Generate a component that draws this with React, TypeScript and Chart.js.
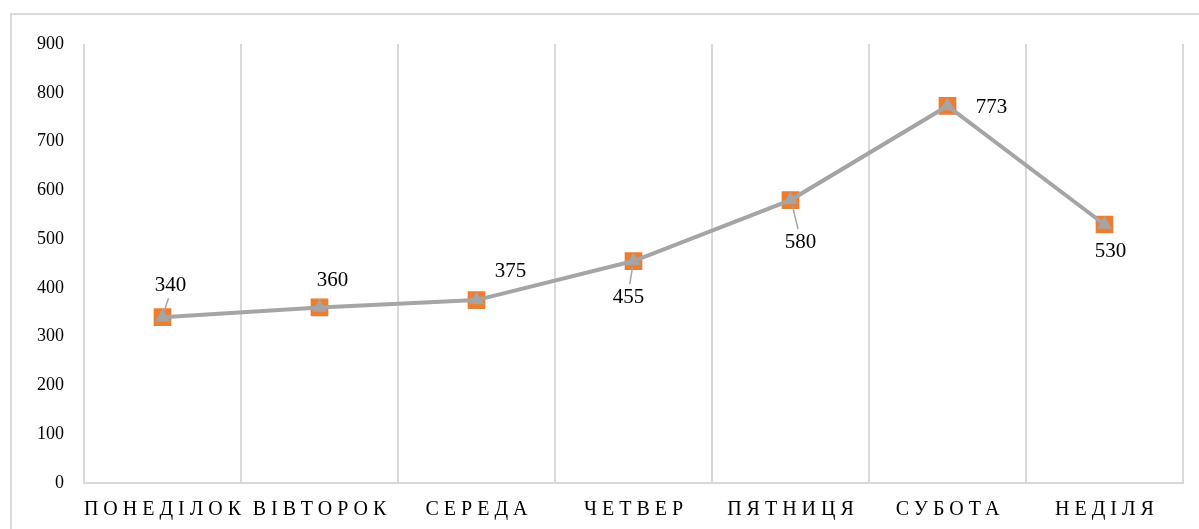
import React, { useEffect, useRef } from "react";
import { Chart, registerables } from "chart.js";

Chart.register(...registerables);

const categories = ["ПОНЕДІЛОК", "ВІВТОРОК", "СЕРЕДА", "ЧЕТВЕР", "ПЯТНИЦЯ", "СУБОТА", "НЕДІЛЯ"];
const values = [340, 360, 375, 455, 580, 773, 530];
const yTicks = [0, 100, 200, 300, 400, 500, 600, 700, 800, 900];
// label offsets (px) relative to each point, and whether a leader line is drawn
const labelDx = [8, 13, 34, -5, 10, 44, 6];
const labelDy = [-32, -27, -29, 36, 42, 2, 27];
const leader = [true, false, false, true, true, false, false];

const FONT = "'Liberation Serif', 'Times New Roman', serif";

const framePlugin = {
  id: "frame",
  beforeDraw(chart: any) {
    const ctx = chart.ctx;
    ctx.save();
    ctx.fillStyle = "#ffffff";
    ctx.fillRect(0, 0, chart.width, chart.height);
    ctx.strokeStyle = "#D9D9D9";
    ctx.lineWidth = 2;
    ctx.strokeRect(11, 14, chart.width + 20, chart.height + 20);
    ctx.restore();
  },
  afterDraw(chart: any) {
    const ctx = chart.ctx;
    const xs = chart.scales.x;
    ctx.save();
    ctx.fillStyle = "#000000";
    ctx.font = `20px ${FONT}`;
    (ctx as any).letterSpacing = "5px";
    ctx.textAlign = "center";
    ctx.textBaseline = "middle";
    categories.forEach((c, i) => {
      const x = xs.getPixelForValue(i);
      ctx.fillText(c, x + 2.5, 510);
    });
    ctx.restore();

    // data labels
    const meta = chart.getDatasetMeta(0);
    ctx.save();
    ctx.font = `21px ${FONT}`;
    ctx.fillStyle = "#000000";
    ctx.textAlign = "center";
    ctx.textBaseline = "middle";
    meta.data.forEach((pt: any, i: number) => {
      const lx = pt.x + labelDx[i];
      const ly = pt.y + labelDy[i];
      if (leader[i]) {
        ctx.strokeStyle = "#A5A5A5";
        ctx.lineWidth = 1.5;
        ctx.beginPath();
        const sy = labelDy[i] < 0 ? -1 : 1;
        ctx.moveTo(pt.x + labelDx[i] * 0.2, pt.y + sy * 6);
        ctx.lineTo(pt.x + labelDx[i] * 0.75, ly - sy * 13);
        ctx.stroke();
      }
      ctx.fillText(String(values[i]), lx, ly);
    });
    ctx.restore();
  },
};

export default function App() {
  const ref = useRef<HTMLCanvasElement>(null);
  useEffect(() => {
    document.body.style.margin = "0";
    const chart = new Chart(ref.current!, {
      type: "line",
      data: {
        labels: categories,
        datasets: [
          {
            data: values,
            borderColor: "#A5A5A5",
            backgroundColor: "#A5A5A5",
            borderWidth: 4,
            pointStyle: "triangle",
            pointRadius: 8.5,
            pointBorderWidth: 0,
            pointBackgroundColor: "#A5A5A5",
            order: 0,
          },
          {
            data: values,
            showLine: false,
            borderColor: "#ED7D31",
            backgroundColor: "#ED7D31",
            pointStyle: "rect",
            pointRadius: 12.5,
            pointBorderWidth: 0,
            pointBackgroundColor: "#ED7D31",
            order: 1,
          },
        ],
      },
      options: {
        responsive: false,
        animation: false,
        layout: { padding: { left: 0, right: 16, top: 44, bottom: 0 } },
        plugins: { legend: { display: false }, tooltip: { enabled: false } },
        scales: {
          x: {
            offset: true,
            grid: { display: true, offset: true, color: "#D9D9D9", lineWidth: 2, drawTicks: false },
            border: { display: true, color: "#D9D9D9", width: 2 },
            ticks: { display: false },
            afterFit(scale: any) {
              scale.height = 46;
            },
          },
          y: {
            min: 0,
            max: 900,
            afterBuildTicks(scale: any) {
              scale.ticks = yTicks.map((v) => ({ value: v }));
            },
            grid: { display: false },
            border: { display: false },
            ticks: {
              padding: 12,
              color: "#000000",
              font: { family: FONT, size: 18 },
            },
            afterFit(scale: any) {
              scale.width = 84;
            },
          },
        },
      },
      plugins: [framePlugin],
    });
    return () => chart.destroy();
  }, []);
  return <canvas ref={ref} width={1199} height={529} style={{ display: "block" }} />;
}
